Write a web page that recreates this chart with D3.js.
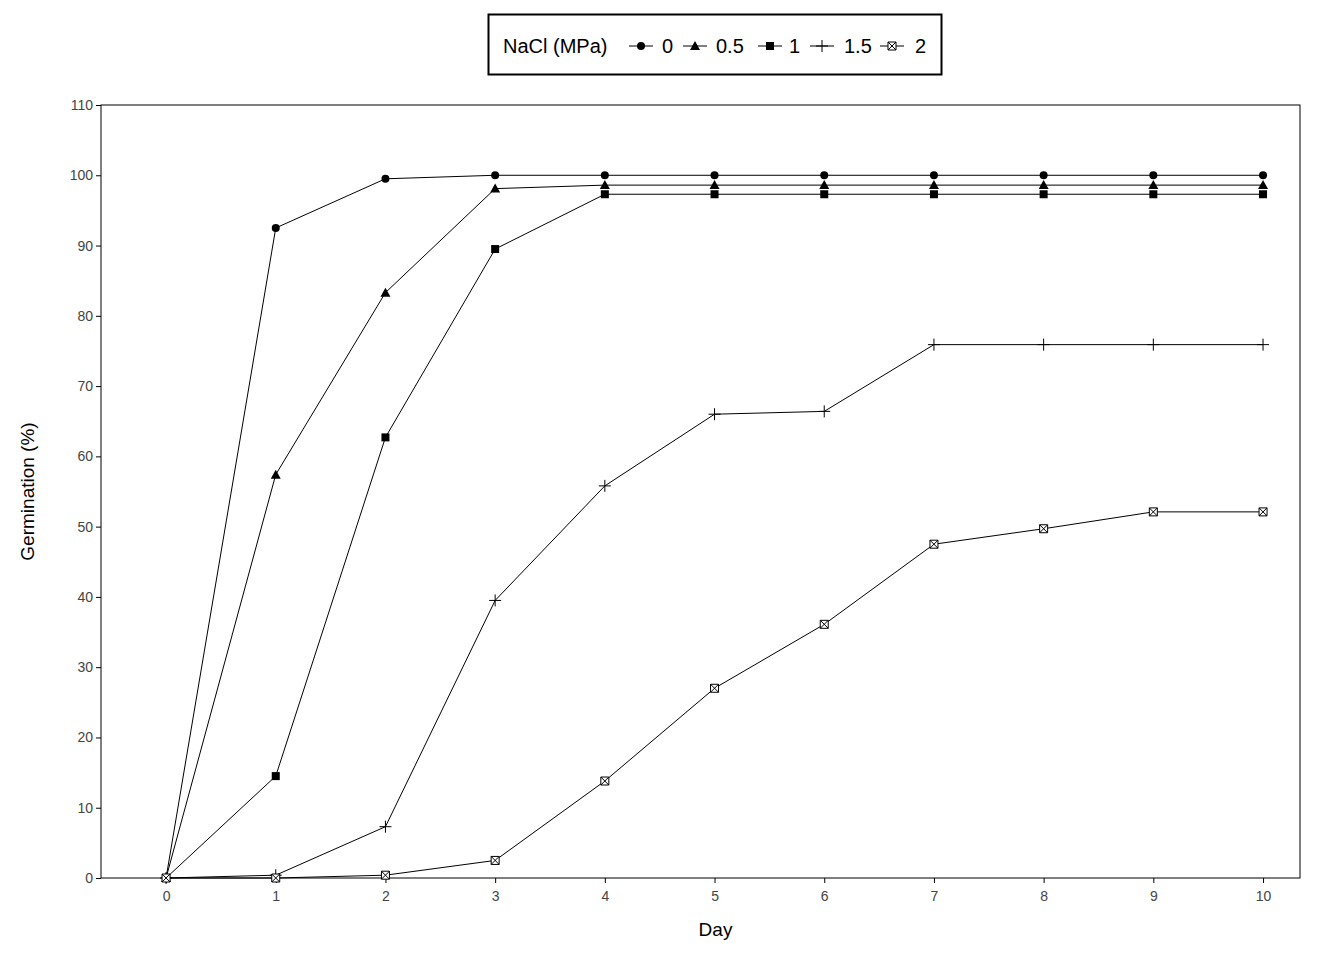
<!DOCTYPE html>
<html><head><meta charset="utf-8">
<script src="https://cdn.jsdelivr.net/npm/d3@7"></script>
<style>body{margin:0;background:#fff}svg{font-family:"Liberation Sans",Arial,sans-serif}</style>
</head><body><svg id="c" width="1344" height="960"></svg>
<script>
const days=[0,1,2,3,4,5,6,7,8,9,10];
const seriesNames=["0","0.5","1","1.5","2"];
const s0=[0,92.5,99.5,100,100,100,100,100,100,100,100];
const s05=[0,57.4,83.3,98.1,98.6,98.6,98.6,98.6,98.6,98.6,98.6];
const s1=[0,14.5,62.7,89.5,97.3,97.3,97.3,97.3,97.3,97.3,97.3];
const s15=[0,0.4,7.3,39.5,55.8,66,66.4,75.9,75.9,75.9,75.9];
const s2=[0,0,0.4,2.5,13.8,27,36.1,47.5,49.7,52.1,52.1];
const yTicks=[0,10,20,30,40,50,60,70,80,90,100,110];
const series=[s0,s05,s1,s15,s2];
const shapes=["circle","triangle","square","plus","xbox"];

const svg=d3.select("#c");
const L=101,R=1300,T=105,B=878;
const x=d3.scaleLinear().domain([-0.593,10.337]).range([L,R]);
const y=d3.scaleLinear().domain([0,110]).range([B,T]);

svg.append("rect").attr("x",L).attr("y",T).attr("width",R-L).attr("height",B-T).attr("fill","none").attr("stroke","#000").attr("stroke-width",1);

const gx=svg.append("g").attr("transform",`translate(0,${B})`).call(d3.axisBottom(x).tickValues(days).tickSize(5).tickSizeOuter(0));
const gy=svg.append("g").attr("transform",`translate(${L},0)`).call(d3.axisLeft(y).tickValues(yTicks).tickSize(5).tickSizeOuter(0));
[gx,gy].forEach(g=>{g.select(".domain").remove();g.selectAll("text").attr("font-size",14).attr("fill","#444").attr("font-family","Liberation Sans, Arial");});
gx.selectAll("text").attr("dy","1.1em");

svg.append("text").attr("x",(L+R)/2+15).attr("y",936).attr("text-anchor","middle").attr("font-size",19).text("Day");
svg.append("text").attr("transform",`translate(34,${(T+B)/2}) rotate(-90)`).attr("text-anchor","middle").attr("font-size",19).text("Germination (%)");

function sym(g,type,cx,cy){
  if(type==="circle") g.append("circle").attr("cx",cx).attr("cy",cy).attr("r",4).attr("fill","#000");
  else if(type==="triangle") g.append("path").attr("d",`M${cx},${cy-5}L${cx+5},${cy+4}L${cx-5},${cy+4}Z`).attr("fill","#000");
  else if(type==="square") g.append("rect").attr("x",cx-4).attr("y",cy-4).attr("width",8).attr("height",8).attr("fill","#000");
  else if(type==="plus") g.append("path").attr("d",`M${cx-6},${cy}H${cx+6}M${cx},${cy-6}V${cy+6}`).attr("stroke","#000").attr("stroke-width",1);
  else g.append("path").attr("d",`M${cx-4},${cy-4}h8v8h-8ZM${cx-4},${cy-4}L${cx+4},${cy+4}M${cx+4},${cy-4}L${cx-4},${cy+4}`).attr("fill","#fff").attr("stroke","#000").attr("stroke-width",1);
}
const line=d3.line().x((d,i)=>x(days[i])).y(d=>y(d));
series.forEach((s,k)=>{
  svg.append("path").attr("d",line(s)).attr("fill","none").attr("stroke","#000").attr("stroke-width",1);
  const g=svg.append("g");
  s.forEach((v,i)=>sym(g,shapes[k],x(days[i]),y(v)));
});

// legend
svg.append("rect").attr("x",488.5).attr("y",14.5).attr("width",453).attr("height",60).attr("fill","#fff").attr("stroke","#000").attr("stroke-width",2);
const lg=svg.append("g");
lg.append("text").attr("x",503).attr("y",53).attr("font-size",20).text("NaCl (MPa)");
const symX=[641,695,770,822,892], labX=[662,716,789,844,915];
seriesNames.forEach((n,k)=>{
  lg.append("line").attr("x1",symX[k]-12).attr("x2",symX[k]+12).attr("y1",46).attr("y2",46).attr("stroke","#000");
  sym(lg,shapes[k],symX[k],46);
  lg.append("text").attr("x",labX[k]).attr("y",53).attr("font-size",20).text(n);
});
</script></body></html>
